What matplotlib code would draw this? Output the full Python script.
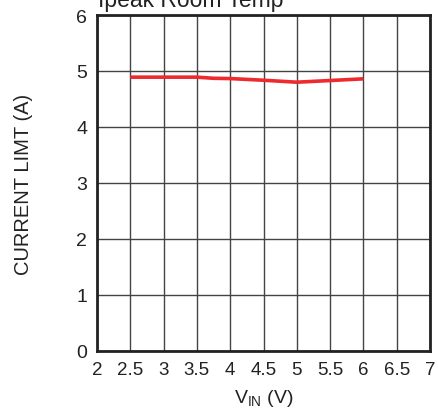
import matplotlib
matplotlib.use('Agg')
import matplotlib.pyplot as plt

plt.rcParams['font.family'] = ['Liberation Sans', 'DejaVu Sans']

# current limit vs input voltage
vin = [2.5, 3.0, 3.5, 3.75, 4.0, 4.5, 5.0, 5.5, 6.0]
ilim = [4.89, 4.89, 4.89, 4.87, 4.865, 4.835, 4.80, 4.83, 4.86]

x_ticks = [2, 2.5, 3, 3.5, 4, 4.5, 5, 5.5, 6, 6.5, 7]
x_tick_labels = ['2', '2.5', '3', '3.5', '4', '4.5', '5', '5.5', '6', '6.5', '7']
y_ticks = [0, 1, 2, 3, 4, 5, 6]

fig = plt.figure(figsize=(4.38, 4.14), dpi=100)
ax = fig.add_axes([97 / 438, 1 - 352 / 414, 333 / 438, 336 / 414])

ax.plot(vin, ilim, color='#ee2a2e', linewidth=2.6, solid_capstyle='butt')

ax.set_xlim(2, 7)
ax.set_ylim(0, 6)
ax.set_xticks(x_ticks)
ax.set_xticklabels(x_tick_labels)
ax.set_yticks(y_ticks)
ax.tick_params(length=0, colors='#222222')
ax.tick_params(axis='x', pad=7.5, labelsize=13.5)
ax.tick_params(axis='y', pad=7, labelsize=14)
ax.grid(True, color='#444444', linewidth=1.0)
ax.set_axisbelow(True)
for s in ax.spines.values():
    s.set_linewidth(2.0)
    s.set_color('#222222')

ax.set_xlabel('V$_{\\mathregular{IN}}$ (V)', fontsize=14, color='#222222', labelpad=6)
ax.set_ylabel('CURRENT LIMT (A)', fontsize=14.5, color='#222222', labelpad=31)
ax.text(0.003, 1.027, 'Ipeak Room Temp', transform=ax.transAxes, fontsize=16.5,
        color='#222222', ha='left', va='baseline')

fig.savefig('out.png', dpi=100)
